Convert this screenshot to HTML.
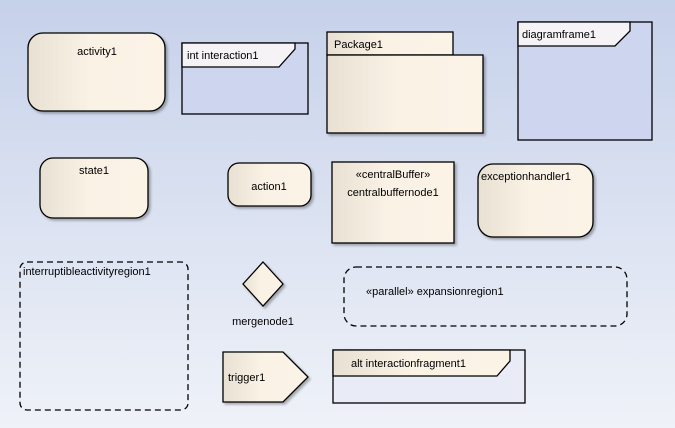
<!DOCTYPE html>
<html><head><meta charset="utf-8"><style>
html,body{margin:0;padding:0}
svg{display:block}
text{font-family:"Liberation Sans",sans-serif;font-size:11px;fill:#000}
</style></head><body>
<svg width="675" height="428" viewBox="0 0 675 428" xmlns="http://www.w3.org/2000/svg">
<defs>
<linearGradient id="bg" x1="0" y1="0" x2="0" y2="1"><stop offset="0" stop-color="#c6d1ea"/><stop offset="1" stop-color="#eff2f8"/></linearGradient>
<linearGradient id="f" x1="0" y1="0" x2="1" y2="0"><stop offset="0" stop-color="#e8e0d2"/><stop offset="0.45" stop-color="#faf2e5"/><stop offset="1" stop-color="#fbf3e6"/></linearGradient>
<filter id="sh" x="-10%" y="-10%" width="130%" height="130%"><feDropShadow dx="2" dy="2" stdDeviation="1.2" flood-color="#000" flood-opacity="0.3"/></filter>
</defs>
<rect width="675" height="428" fill="url(#bg)"/>
<g stroke="#000" stroke-width="1.3">
<rect x="28" y="33" width="137" height="78" rx="15" fill="url(#f)" filter="url(#sh)"/>
<rect x="40" y="158" width="108" height="60" rx="13" fill="url(#f)" filter="url(#sh)"/>
<rect x="228" y="163" width="83" height="43" rx="11" fill="url(#f)" filter="url(#sh)"/>
<rect x="478" y="164" width="115" height="73" rx="15" fill="url(#f)" filter="url(#sh)"/>
<rect x="332" y="162" width="122" height="81" fill="url(#f)" filter="url(#sh)"/>
<rect x="327" y="32" width="126" height="23" fill="url(#f)"/>
<rect x="327" y="55" width="156" height="78" fill="url(#f)" filter="url(#sh)"/>
<rect x="182" y="43" width="126" height="71" fill="#cdd6ee"/>
<path d="M182 67 H279 L295 49 V43 H182 Z" fill="#f5f3f5"/>
<rect x="518" y="22" width="134" height="118" fill="#cdd6ee"/>
<path d="M518 46 H615 L630 31 V22 H518 Z" fill="#f5f3f5"/>
<rect x="333" y="350" width="192" height="53" fill="#e9ecf6"/>
<path d="M333 376 H497 L510 361 V350 H333 Z" fill="url(#f)"/>
<path d="M263 262 L283 284 L263 306 L243 284 Z" fill="url(#f)" filter="url(#sh)"/>
<path d="M223 352 H283 L308 377 L283 402 H223 Z" fill="url(#f)" filter="url(#sh)"/>
<g fill="none" stroke-dasharray="6,4">
<rect x="20" y="262" width="168" height="148" rx="7"/>
<rect x="344" y="267" width="283" height="59" rx="12"/>
</g>
</g>
<text x="97" y="55" text-anchor="middle">activity1</text>
<text x="187" y="59">int interaction1</text>
<text x="334" y="48">Package1</text>
<text x="522" y="38">diagramframe1</text>
<text x="94" y="174" text-anchor="middle">state1</text>
<text x="269" y="190" text-anchor="middle">action1</text>
<text x="393" y="178" text-anchor="middle">«centralBuffer»</text>
<text x="393" y="196" text-anchor="middle">centralbuffernode1</text>
<text x="481" y="180">exceptionhandler1</text>
<text x="23" y="275">interruptibleactivityregion1</text>
<text x="263" y="325" text-anchor="middle">mergenode1</text>
<text x="366" y="295">«parallel» expansionregion1</text>
<text x="228" y="381">trigger1</text>
<text x="351" y="367">alt interactionfragment1</text>
</svg>
</body></html>
